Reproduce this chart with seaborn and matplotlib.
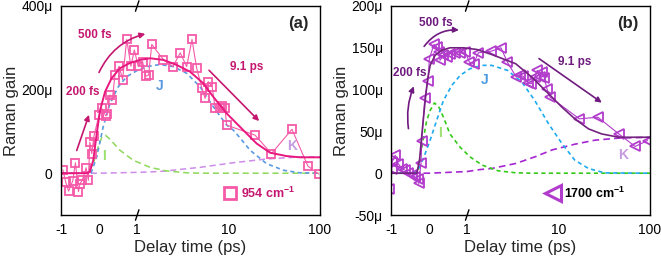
import numpy as np
import pandas as pd
import matplotlib
matplotlib.use("Agg")
import matplotlib.pyplot as plt
from matplotlib.lines import Line2D
import seaborn as sns


# panel (a): 954 cm-1, delay (ps) and gain (in units of 1e-6)
a_t = [-0.95, -0.88, -0.80, -0.69, -0.62, -0.54, -0.50, -0.44, -0.34, -0.28,
       -0.24, -0.19, -0.13, 0.0, 0.07, 0.18, 0.22, 0.29, 0.35, 0.42,
       0.53, 0.62, 0.73, 0.84, 0.93, 1.03, 1.15, 1.25, 1.34, 1.45,
       1.94, 2.47, 2.97, 3.49, 3.99, 4.49, 5.1, 5.55, 6.0, 6.63,
       7.13, 8.07, 8.55, 9.16, 9.55, 19.5, 29.5, 49.4, 73.8, 97.0]
a_gain = [8, -20, -43, -18, 25, -44, -25, -17, 13, -17,
          74, 47, 90, 139, 155, 137, 141, 187, 175, 235,
          256, 224, 320, 256, 295, 256, 267, 232, 235, 308,
          272, 255, 288, 255, 320, 251, 205, 179, 219, 207,
          157, 155, 160, 155, 115, 91, 47, 105, 17, -2]

a_fit_t = [-1, -0.3, -0.24, -0.15, -0.06, 0.03, 0.16, 0.33, 0.55, 0.82, 1.08, 1.39,
           1.94, 2.71, 3.79, 5.3, 6.8, 9.55, 14.5, 20.3, 28.5, 43, 60, 100]
a_fit = [0, 0, 4, 31, 95, 151, 195, 227, 251, 264, 271, 275,
         271, 259, 243, 215, 183, 143, 103, 71, 49, 41, 38, 38]

a_I_t = [-1, -0.3, -0.15, -0.02, 0.07, 0.17, 0.3, 0.55, 0.9, 1.39, 2.1, 3.5, 5, 100]
a_I = [0, 0, 23, 63, 85, 91, 80, 55, 31, 14, 5.5, 1, 0, 0]

a_J_t = [-1, -0.21, -0.06, 0.11, 0.29, 0.51, 0.73, 0.99, 1.28, 1.78, 2.49, 3.49,
         4.88, 6.82, 9.55, 11.3, 13.3, 17.2, 26, 40, 60, 100]
a_J = [0, 0, 39, 111, 167, 207, 231, 245, 255, 260, 255, 239,
       207, 159, 115, 103, 85, 55, 23, 7, 1, 0]

a_K_t = [-1, 0, 1, 1.39, 2.0, 2.95, 4.88, 11.3, 26, 60, 100]
a_K = [0, 0, 2, 3, 5, 9, 14, 25, 34, 39, 39]

# panel (b): 1700 cm-1
b_t = [-1.05, -0.98, -0.97, -0.89, -0.81, -0.72, -0.63, -0.54, -0.46, -0.37,
       -0.28, -0.27, -0.21, -0.19, -0.11, -0.03, 0.01, 0.13, 0.2, 0.25,
       0.29, 0.38, 0.47, 0.55, 0.68, 0.82, 0.95, 1.06, 1.18, 1.33,
       1.84, 2.35, 2.76, 3.45, 3.75, 4.1, 4.65, 5.05, 5.5, 5.86,
       6.2, 6.62, 7.0, 7.47, 8.1, 16.9, 26.9, 45.6, 68.8, 94.0]
b_gain = [-19, 5.6, 13.5, 21.5, 11.6, 5.6, 3.6, 0, -2.4, -4.4,
          -7.5, -12, 12, 38.6, 90.5, 110, 137, 154, 151, 145,
          135, 141, 139, 143, 144, 144, 145, 133, 131, 144,
          146, 150, 133, 115, 117, 116, 108, 107, 115, 123,
          115, 121, 114, 101, 91, 65, 67, 47, 32, 39]

b_fit_t = [-1, -0.32, -0.25, -0.17, -0.1, -0.04, 0.03, 0.16, 0.33, 0.55, 0.9, 1.28,
           1.86, 3.4, 5.1, 7.8, 10.9, 15.1, 21.3, 29.6, 45.6, 100]
b_fit = [0, 0, 15.5, 55, 87, 111, 129, 141, 147, 150, 150, 148,
         142, 131, 115, 95, 79, 65, 53, 47, 43, 43]

b_I_t = [-1, -0.3, -0.19, -0.06, 0.03, 0.14, 0.25, 0.38, 0.55, 0.82, 1.08, 1.47,
         2.2, 3.4, 5, 100]
b_I = [0, 0, 31, 63, 75, 84, 80, 67, 47, 31, 19.5, 9.6,
       2.8, 0.5, 0, 0]

b_J_t = [-1, -0.37, -0.24, -0.1, 0.03, 0.2, 0.38, 0.6, 0.82, 1.08, 1.47, 1.86,
         2.77, 3.98, 5.5, 7.8, 10.9, 15.1, 21.3, 32, 100]
b_J = [0, 0, 7.5, 23.5, 39.5, 63, 87, 105, 117, 125, 129, 129,
       123, 109, 87, 59, 35.5, 15.5, 5.6, 0.4, 0]

b_K_t = [-1, 0, 1, 1.4, 1.86, 3.4, 5.5, 8.6, 15.1, 25, 45.6, 100]
b_K = [0, 0, 2, 4.4, 5.6, 11.6, 19.5, 28, 34.7, 39.5, 42, 43]

x_ticks = [-1, 0, 1, 10, 100]
a_yticks = [0, 200, 400]
a_ylabels = ["0", "200\u03bc", "400\u03bc"]
b_yticks = [-50, 0, 50, 100, 150, 200]
b_ylabels = ["-50\u03bc", "0", "50\u03bc", "100\u03bc", "150\u03bc", "200\u03bc"]

# linear from -1 to 1, log from 1 to 100
K = 91.5 / 38.0


def fwd(x):
    x = np.asarray(x, dtype=float)
    return np.where(x <= 1, x, 1 + K * np.log10(np.maximum(x, 1)))


def inv(u):
    u = np.asarray(u, dtype=float)
    return np.where(u <= 1, u, 10 ** ((np.maximum(u, 1) - 1) / K))


def curve(ax, t, y, color, ls="-", lw=1.2, **kw):
    df = pd.DataFrame({"t": t, "y": y})
    sns.lineplot(data=df, x="t", y="y", ax=ax, estimator=None, sort=False,
                 legend=False, color=color, linewidth=lw, linestyle=ls, **kw)


def setup(ax, ylim, yticks, ylabels):
    ax.set_xscale("function", functions=(fwd, inv))
    ax.set_xlim(-1, 100)
    ax.set_ylim(*ylim)
    ax.set_xticks(x_ticks)
    ax.set_xticklabels(["-1", "0", "1", "10", "100"])
    ax.xaxis.set_minor_locator(matplotlib.ticker.NullLocator())
    ax.set_yticks(yticks)
    ax.set_yticklabels(ylabels)
    ax.tick_params(direction="out", length=4, width=1, labelsize=10, pad=2, colors="black")
    for s in ax.spines.values():
        s.set_color("black")
        s.set_linewidth(1.0)
    ax.set_xlabel("Delay time (ps)", fontsize=12, labelpad=2)
    ax.set_ylabel("Raman gain", fontsize=12, labelpad=2)
    # axis break marks at t = 1
    tr = ax.get_xaxis_transform()
    for yy in (0, 1):
        ax.plot([0.96, 1.05], [yy - 0.025, yy + 0.025], transform=tr, color="black",
                lw=1.0, clip_on=False)


sns.set_style("white")
plt.rcParams["font.family"] = ["Liberation Sans", "DejaVu Sans"]
plt.rcParams["mathtext.fontset"] = "custom"
plt.rcParams["mathtext.rm"] = "Liberation Sans"
plt.rcParams["mathtext.bf"] = "Liberation Sans:bold"

fig = plt.figure(figsize=(6.61, 2.58), dpi=100)
ax_a = fig.add_axes([61 / 661, 43 / 258, 259 / 661, 209 / 258])
ax_b = fig.add_axes([391 / 661, 43 / 258, 259 / 661, 209 / 258])

# ---- panel (a)
pink = "#f55aa8"
fit_a = "#e8187e"
arr_a = "#c4176f"
setup(ax_a, (-100, 400), a_yticks, a_ylabels)
curve(ax_a, a_K_t, a_K, "#cc8ce8", ls=(0, (4, 2.5)), lw=1.1)
curve(ax_a, a_I_t, a_I, "#8ed85a", ls=(0, (4, 2.5)), lw=1.1)
curve(ax_a, a_J_t, a_J, "#5a9ae0", ls=(0, (2.5, 2)), lw=1.2)
curve(ax_a, a_t, a_gain, pink, lw=0.8, marker="s", markersize=6,
      markerfacecolor="none", markeredgecolor=pink, markeredgewidth=1.3)
curve(ax_a, a_fit_t, a_fit, fit_a, lw=1.4)

ax_a.text(0.915, 0.915, "(a)", transform=ax_a.transAxes, fontsize=12, fontweight="bold",
          ha="center", va="center")
ax_a.text(1.78, 208, "J", color="#5a9ae0", fontsize=10, fontweight="bold", ha="center", va="center")
ax_a.text(0.13, 41, "I", color="#9be070", fontsize=10, fontweight="bold", ha="center", va="center")
ax_a.text(49.3, 65, "K", color="#c49be0", fontsize=10, fontweight="bold", ha="center", va="center")
ax_a.text(-0.1, 330, "500 fs", color=arr_a, fontsize=8.5, fontweight="bold", ha="center", va="center")
ax_a.text(-0.42, 194, "200 fs", color=arr_a, fontsize=8.5, fontweight="bold", ha="center", va="center")
ax_a.text(15.9, 254, "9.1 ps", color=arr_a, fontsize=8.5, fontweight="bold", ha="center", va="center")
ax_a.annotate("", xy=(-0.24, 146), xytext=(-0.61, 48),
              arrowprops=dict(arrowstyle="-|>", color=arr_a, lw=1.2, mutation_scale=8))
ax_a.annotate("", xy=(1.32, 335), xytext=(-0.03, 235),
              arrowprops=dict(arrowstyle="-|>", color=arr_a, lw=1.2, mutation_scale=8,
                              connectionstyle="arc3,rad=-0.25"))
ax_a.annotate("", xy=(22.7, 120), xytext=(5.83, 251),
              arrowprops=dict(arrowstyle="-|>", color=arr_a, lw=1.2, mutation_scale=8))
h_a = Line2D([], [], linestyle="none", marker="s", markersize=9, markerfacecolor="none",
             markeredgecolor=pink, markeredgewidth=2)
ax_a.legend([h_a], [r"954 cm$^{\mathbf{-1}}$"], loc="center right", bbox_to_anchor=(0.93, 0.105),
            frameon=False, handlelength=1.0, handletextpad=0.4, borderpad=0,
            prop=dict(weight="bold", size=9), labelcolor=arr_a)

# ---- panel (b)
violet = "#b23ccc"
fit_b = "#74227f"
arr_b = "#6e1a7e"
setup(ax_b, (-50, 200), b_yticks, b_ylabels)
curve(ax_b, b_K_t, b_K, "#a526d2", ls=(0, (4, 2.5)), lw=1.2)
curve(ax_b, b_I_t, b_I, "#34c918", ls=(0, (2.5, 2)), lw=1.2)
curve(ax_b, b_J_t, b_J, "#1eaaee", ls=(0, (2.5, 2)), lw=1.2)
curve(ax_b, b_t, b_gain, violet, lw=0.8, marker="<", markersize=7,
      markerfacecolor="none", markeredgecolor=violet, markeredgewidth=1.3)
curve(ax_b, b_fit_t, b_fit, fit_b, lw=1.2)

ax_b.text(0.915, 0.915, "(b)", transform=ax_b.transAxes, fontsize=12, fontweight="bold",
          ha="center", va="center")
ax_b.text(1.57, 111, "J", color="#4a9ae0", fontsize=10, fontweight="bold", ha="center", va="center")
ax_b.text(0.29, 47.5, "I", color="#9be070", fontsize=10, fontweight="bold", ha="center", va="center")
ax_b.text(51, 21.5, "K", color="#c49be0", fontsize=10, fontweight="bold", ha="center", va="center")
ax_b.text(0.18, 180, "500 fs", color=arr_b, fontsize=8.5, fontweight="bold", ha="center", va="center")
ax_b.text(-0.5, 120, "200 fs", color=arr_b, fontsize=8.5, fontweight="bold", ha="center", va="center")
ax_b.text(15.1, 133, "9.1 ps", color=arr_b, fontsize=8.5, fontweight="bold", ha="center", va="center")
ax_b.annotate("", xy=(-0.37, 107), xytext=(-0.53, 50),
              arrowprops=dict(arrowstyle="-|>", color=arr_b, lw=1.2, mutation_scale=8,
                              connectionstyle="arc3,rad=-0.15"))
ax_b.annotate("", xy=(0.86, 171), xytext=(-0.17, 149),
              arrowprops=dict(arrowstyle="-|>", color=arr_b, lw=1.2, mutation_scale=8,
                              connectionstyle="arc3,rad=-0.3"))
ax_b.annotate("", xy=(31.5, 82.5), xytext=(5.78, 139),
              arrowprops=dict(arrowstyle="-|>", color=arr_b, lw=1.2, mutation_scale=8))
h_b = Line2D([], [], linestyle="none", marker="<", markersize=11, markerfacecolor="none",
             markeredgecolor=violet, markeredgewidth=2.2)
ax_b.legend([h_b], [r"1700 cm$^{\mathbf{-1}}$"], loc="center right", bbox_to_anchor=(0.93, 0.105),
            frameon=False, handlelength=1.0, handletextpad=0.4, borderpad=0,
            prop=dict(weight="bold", size=9), labelcolor="black")

fig.savefig("out.png", dpi=100)
